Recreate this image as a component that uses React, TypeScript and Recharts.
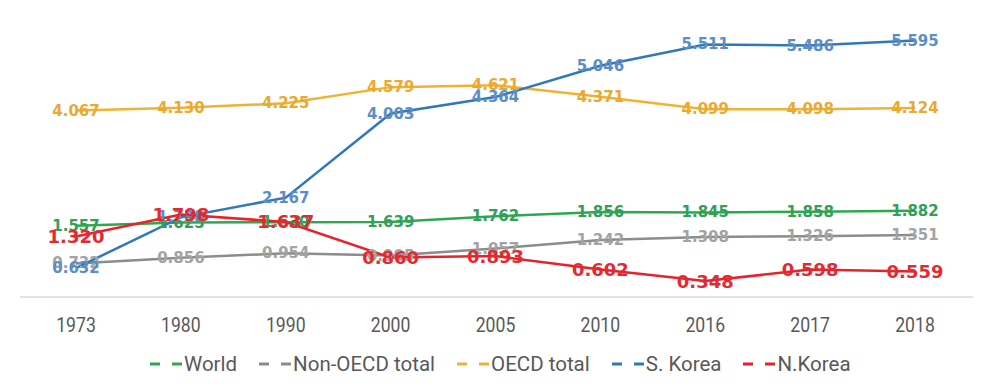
import React from "react";
import { LineChart, Line, XAxis, YAxis, LabelList } from "recharts";

// years on the x axis
const years = ["1973", "1980", "1990", "2000", "2005", "2010", "2016", "2017", "2018"];

// values
const world = [1.557, 1.625, 1.63, 1.639, 1.762, 1.856, 1.845, 1.858, 1.882];
const nonOecd = [0.732, 0.856, 0.954, 0.905, 1.057, 1.242, 1.308, 1.326, 1.351];
const oecd = [4.067, 4.13, 4.225, 4.579, 4.621, 4.371, 4.099, 4.098, 4.124];
const sKorea = [0.632, 1.738, 2.167, 4.003, 4.364, 5.046, 5.511, 5.486, 5.595];
const nKorea = [1.32, 1.798, 1.637, 0.86, 0.893, 0.602, 0.348, 0.598, 0.559];

const data = years.map((year, i) => ({
  year,
  world: world[i],
  nonOecd: nonOecd[i],
  oecd: oecd[i],
  sKorea: sKorea[i],
  nKorea: nKorea[i],
}));

const series = [
  { key: "world", name: "World", line: "#2ea84f", label: "#31a058", size: 15 },
  { key: "nonOecd", name: "Non-OECD total", line: "#8c8c8c", label: "#a3a3a3", size: 15 },
  { key: "oecd", name: "OECD total", line: "#f1b233", label: "#eaa92f", size: 15 },
  { key: "sKorea", name: "S. Korea", line: "#2f78bb", label: "#5b8dc6", size: 15 },
  { key: "nKorea", name: "N.Korea", line: "#e8222b", label: "#e42a30", size: 18 },
];

function makeLabel(color: string, size: number) {
  return (props: any) => {
    const { x, y, value } = props;
    if (value == null) return null;
    return (
      <text
        x={x}
        y={y}
        textAnchor="middle"
        dominantBaseline="central"
        fill={color}
        fontSize={size}
        fontWeight="bold"
        fontFamily="'DejaVu Sans', sans-serif"
      >
        {Number(value).toFixed(3)}
      </text>
    );
  };
}

// condensed-looking year ticks
function YearTick(props: any) {
  const { x, y, payload } = props;
  return (
    <g transform={`translate(${x},${y})`}>
      <text
        transform="scale(0.84,1)"
        x={0}
        y={0}
        dy="0.71em"
        textAnchor="middle"
        fill="#595959"
        fontSize={21}
        fontFamily="Roboto, sans-serif"
      >
        {payload.value}
      </text>
    </g>
  );
}

export default function App() {
  return (
    <div
      style={{
        position: "relative",
        width: 981,
        height: 386,
        margin: -8,
        overflow: "hidden",
        background: "#fff",
      }}
    >
      {/* light frame from the original screenshot */}
      <div
        style={{
          position: "absolute",
          left: 5,
          top: 4,
          width: 1000,
          height: 400,
          borderTop: "2px solid #dedede",
          borderLeft: "2px solid #dedede",
        }}
      />
      <div style={{ position: "absolute", left: 0, top: 0 }}>
        <LineChart
          width={981}
          height={386}
          data={data}
          margin={{ top: 22, right: 0, left: 20, bottom: 59 }}
        >
          <XAxis
            dataKey="year"
            height={30}
            padding={{ left: 56, right: 66 }}
            axisLine={{ stroke: "#d9d9d9", strokeWidth: 1.5 }}
            tickLine={false}
            tickMargin={14}
            tick={<YearTick />}
            interval={0}
          />
          <YAxis hide domain={[0, 6]} />
          {series.map((s) => (
            <Line
              key={s.key}
              dataKey={s.key}
              name={s.name}
              stroke={s.line}
              strokeWidth={2.5}
              dot={false}
              isAnimationActive={false}
            >
              <LabelList dataKey={s.key} content={makeLabel(s.label, s.size)} />
            </Line>
          ))}
        </LineChart>
      </div>
      {/* legend */}
      <div
        style={{
          position: "absolute",
          left: 150,
          top: 351,
          height: 26,
          display: "flex",
          alignItems: "center",
          fontFamily: "Roboto, sans-serif",
          fontSize: 20.5,
          color: "#595959",
          whiteSpace: "nowrap",
        }}
      >
        {series.map((s) => (
          <div
            key={s.key}
            style={{ display: "flex", alignItems: "center", marginRight: 22 }}
          >
            <svg width={34} height={10}>
              <line
                x1={0}
                y1={5}
                x2={33}
                y2={5}
                stroke={s.line}
                strokeWidth={3}
                strokeDasharray="10 12"
              />
            </svg>
            <span>{s.name}</span>
          </div>
        ))}
      </div>
    </div>
  );
}
